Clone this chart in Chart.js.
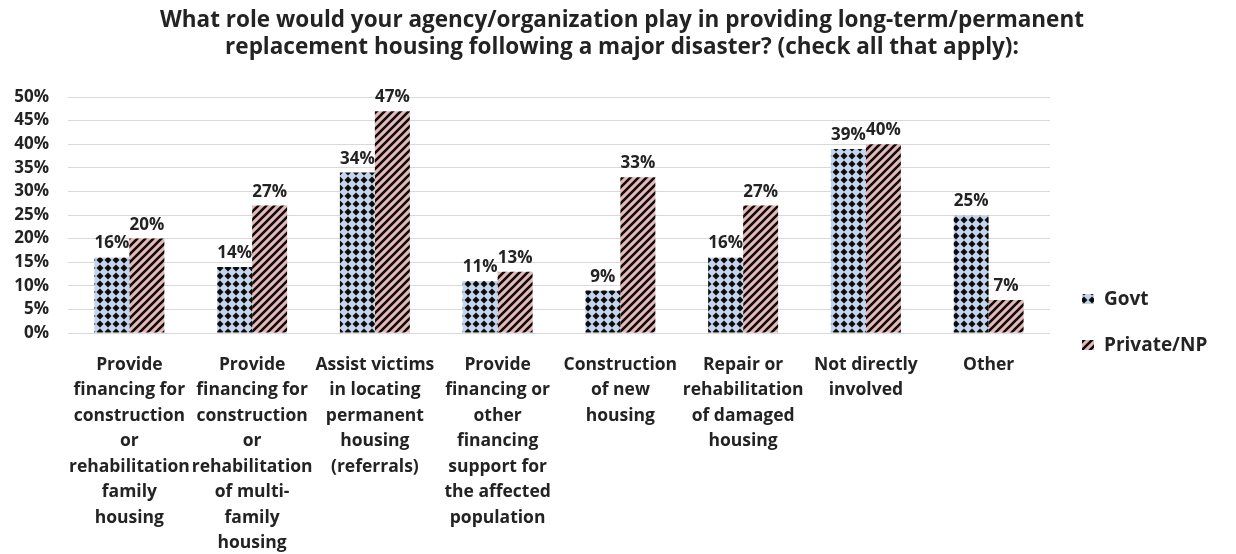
<!DOCTYPE html>
<html>
<head>
<meta charset="utf-8">
<title>Long-term housing roles</title>
<script src="https://cdn.jsdelivr.net/npm/chart.js@4"></script>
<style>
  html, body { margin: 0; background: #fff; }
  #wrap { width: 1236px; height: 554px; }
</style>
</head>
<body>
<div id="wrap"><canvas id="roleChart" width="1236" height="554"></canvas></div>
<script>
const titleLines = [
  'What role would your agency/organization play in providing long-term/permanent',
  'replacement housing following a major disaster? (check all that apply):'
];
const categories = [
  ['Provide', 'financing for', 'construction', 'or', 'rehabilitation', 'family', 'housing'],
  ['Provide', 'financing for', 'construction', 'or', 'rehabilitation', 'of multi-', 'family', 'housing'],
  ['Assist victims', 'in locating', 'permanent', 'housing', '(referrals)'],
  ['Provide', 'financing or', 'other', 'financing', 'support for', 'the affected', 'population'],
  ['Construction', 'of new', 'housing'],
  ['Repair or', 'rehabilitation', 'of damaged', 'housing'],
  ['Not directly', 'involved'],
  ['Other']
];
const govtPct = [16, 14, 34, 11, 9, 16, 39, 25];
const privatePct = [20, 27, 47, 13, 33, 27, 40, 7];
const yTicks = [0, 5, 10, 15, 20, 25, 30, 35, 40, 45, 50];

const ink = '#232323';
const face = '"Open Sans", "DejaVu Sans", sans-serif';

// black diamonds on light blue
function diamondFill() {
  const c = document.createElement('canvas');
  c.width = c.height = 8;
  const g = c.getContext('2d');
  g.fillStyle = '#c4d4ea';
  g.fillRect(0, 0, 8, 8);
  g.fillStyle = '#0d0d0d';
  g.beginPath();
  g.moveTo(4, 0.5); g.lineTo(7.5, 4); g.lineTo(4, 7.5); g.lineTo(0.5, 4);
  g.closePath();
  g.fill();
  return g.createPattern(c, 'repeat');
}

// black "/" stripes on pink
function stripeFill() {
  const c = document.createElement('canvas');
  c.width = c.height = 8;
  const g = c.getContext('2d');
  g.fillStyle = '#e6b9b8';
  g.fillRect(0, 0, 8, 8);
  g.strokeStyle = '#0d0d0d';
  g.lineWidth = 2.6;
  g.beginPath();
  g.moveTo(-2, 10); g.lineTo(10, -2);
  g.moveTo(-2, 2); g.lineTo(2, -2);
  g.moveTo(6, 10); g.lineTo(10, 6);
  g.stroke();
  return g.createPattern(c, 'repeat');
}

// title sits over the whole canvas, legend included
const topTitle = {
  id: 'topTitle',
  afterDraw(chart) {
    const ctx = chart.ctx;
    ctx.save();
    ctx.font = 'bold 22.5px ' + face;
    ctx.fillStyle = ink;
    ctx.textAlign = 'center';
    ctx.textBaseline = 'middle';
    titleLines.forEach((line, i) => ctx.fillText(line, 622, 21 + i * 27));
    ctx.restore();
  }
};

const valueLabels = {
  id: 'valueLabels',
  afterDatasetsDraw(chart) {
    const ctx = chart.ctx;
    ctx.save();
    ctx.font = 'bold 17px ' + face;
    ctx.fillStyle = ink;
    ctx.textAlign = 'center';
    ctx.textBaseline = 'alphabetic';
    chart.data.datasets.forEach((ds, i) => {
      chart.getDatasetMeta(i).data.forEach((bar, j) => {
        ctx.fillText(ds.data[j] + '%', bar.x, bar.y - 9);
      });
    });
    ctx.restore();
  }
};

const sideLegend = {
  id: 'sideLegend',
  afterDraw(chart) {
    const ctx = chart.ctx;
    const area = chart.chartArea;
    const x = area.right + 32;
    ctx.save();
    chart.data.datasets.forEach((ds, i) => {
      const y = area.bottom - 34 + i * 46;
      ctx.fillStyle = ds.backgroundColor;
      ctx.fillRect(x, y - 5, 12, 10);
      ctx.fillStyle = ink;
      ctx.font = 'bold 19px ' + face;
      ctx.textAlign = 'left';
      ctx.textBaseline = 'middle';
      ctx.fillText(ds.label, x + 22, y + 1);
    });
    ctx.restore();
  }
};

new Chart(document.getElementById('roleChart'), {
  type: 'bar',
  data: {
    labels: categories,
    datasets: [
      { label: 'Govt', data: govtPct, backgroundColor: diamondFill(), borderWidth: 0 },
      { label: 'Private/NP', data: privatePct, backgroundColor: stripeFill(), borderWidth: 0 }
    ]
  },
  options: {
    responsive: false,
    animation: false,
    layout: { padding: { left: 0, right: 186, top: 97, bottom: 0 } },
    datasets: { bar: { categoryPercentage: 0.57, barPercentage: 1 } },
    plugins: {
      legend: { display: false },
      tooltip: { enabled: false },
      title: { display: false }
    },
    scales: {
      x: {
        grid: { display: false },
        border: { display: false },
        afterFit(scale) { scale.height = 221; },
        ticks: {
          autoSkip: false,
          maxRotation: 0,
          padding: 11,
          color: ink,
          font: { family: face, size: 17.5, weight: 'bold', lineHeight: '25.5px' }
        }
      },
      y: {
        min: 0,
        max: 50,
        afterFit(scale) { scale.width = 68; },
        afterBuildTicks(scale) { scale.ticks = yTicks.map(v => ({ value: v })); },
        grid: { color: '#d9d9d9', lineWidth: 1, drawTicks: false },
        border: { display: false },
        ticks: {
          padding: 19,
          color: ink,
          font: { family: face, size: 17, weight: 'bold' },
          callback: v => v + '%'
        }
      }
    }
  },
  plugins: [valueLabels, sideLegend, topTitle]
});
</script>
</body>
</html>
